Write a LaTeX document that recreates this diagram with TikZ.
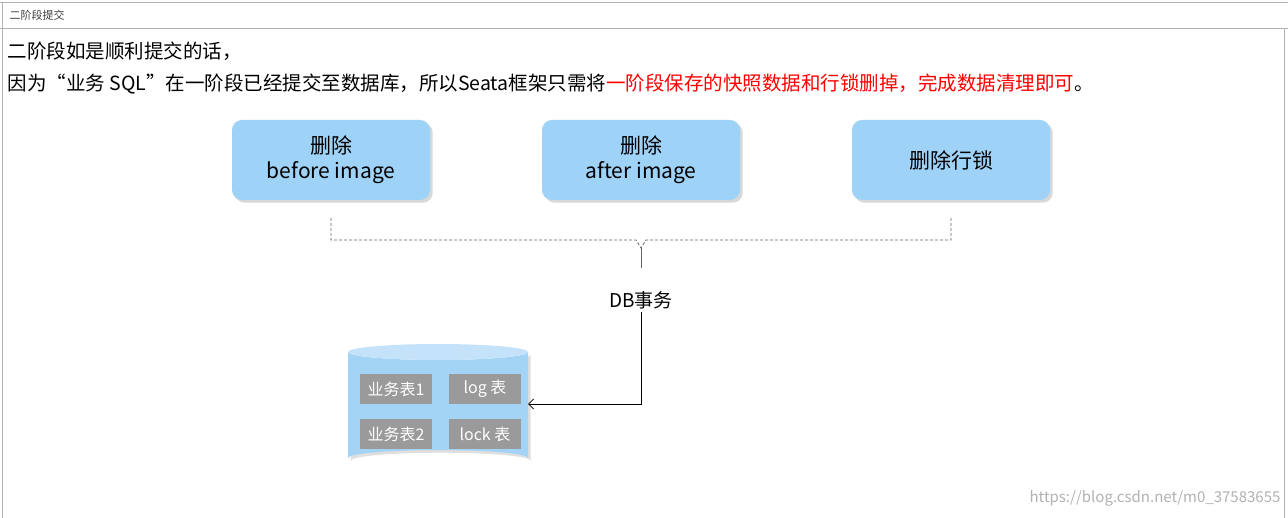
\documentclass[tikz,border=0pt]{standalone}
\usepackage{fontspec}
\setmainfont{Noto Sans CJK SC}
\usetikzlibrary{arrows.meta,shapes.geometric,shadows}
\definecolor{boxblue}{HTML}{9FD2F7}
\definecolor{cylblue}{HTML}{A3D3F5}
\definecolor{cyltop}{HTML}{C4E3FA}
\definecolor{tgray}{HTML}{9A9A9A}
\tikzset{
  stepbox/.style={rounded corners=10pt,fill=boxblue,minimum width=198pt,minimum height=80pt,align=center,font=\fontsize{21}{25}\selectfont,drop shadow={opacity=0.3}},
  tbl/.style={fill=tgray,minimum width=72pt,minimum height=30pt,text=white,font=\fontsize{16}{18}\selectfont},
}
\begin{document}
\begin{tikzpicture}[x=1pt,y=-1pt]
\useasboundingbox (0,0) rectangle (1288,518);
\fill[white] (0,0) rectangle (1288,518);
\draw[gray!60] (0,2) -- (1288,2);
\draw[gray!60] (0,28) -- (1288,28);
\draw[gray!60] (2,2) -- (2,518);
\draw[gray!60] (1284,28) -- (1284,518);
\node[anchor=west,font=\fontsize{11}{12}\selectfont,text=black!75] (title) at (6,15) {二阶段提交};
\node[anchor=west,font=\fontsize{19.5}{22}\selectfont] (l1) at (4,51) {二阶段如是顺利提交的话，};
\node[anchor=west,font=\fontsize{19.5}{22}\selectfont] (l2) at (4,84) {因为“业务 SQL”在一阶段已经提交至数据库，所以Seata框架只需将\textcolor{red}{一阶段保存的快照数据和行锁删掉，完成数据清理即可}。};
\node[stepbox] (b1) at (331,160) {删除\\before image};
\node[stepbox] (b2) at (641,160) {删除\\after image};
\node[stepbox] (b3) at (951,160) {删除行锁};
\draw[densely dashed,black!60,thick] (331,218) -- (331,240) -- (636,240) -- (641,248) -- (646,240) -- (951,240) -- (951,218);
\draw[black!60,thick] (641,248) -- (641,268);
\node[font=\fontsize{19}{22}\selectfont] (db) at (641,300) {DB事务};
% cylinder
\fill[cylblue,drop shadow={opacity=0.25}] (348,352) -- (348,458) arc[start angle=180,end angle=360,x radius=90,y radius=8] -- (528,352) arc[start angle=0,end angle=180,x radius=90,y radius=8];
\fill[cyltop] (438,352) ellipse[x radius=90,y radius=8];
\coordinate (cyl) at (528,404);
\node[tbl] (t1) at (396,389) {业务表1};
\node[tbl] (t2) at (485,389) {log 表};
\node[tbl] (t3) at (396,434) {业务表2};
\node[tbl] (t4) at (485,434) {lock 表};
\draw[-{Straight Barb[length=5pt,width=10pt]},thick] (db.south) |- (cyl);
\node[text=gray!60,font=\fontsize{15}{16}\selectfont] (wm) at (1155,498) {https://blog.csdn.net/m0\_37583655};
\end{tikzpicture}
\end{document}
